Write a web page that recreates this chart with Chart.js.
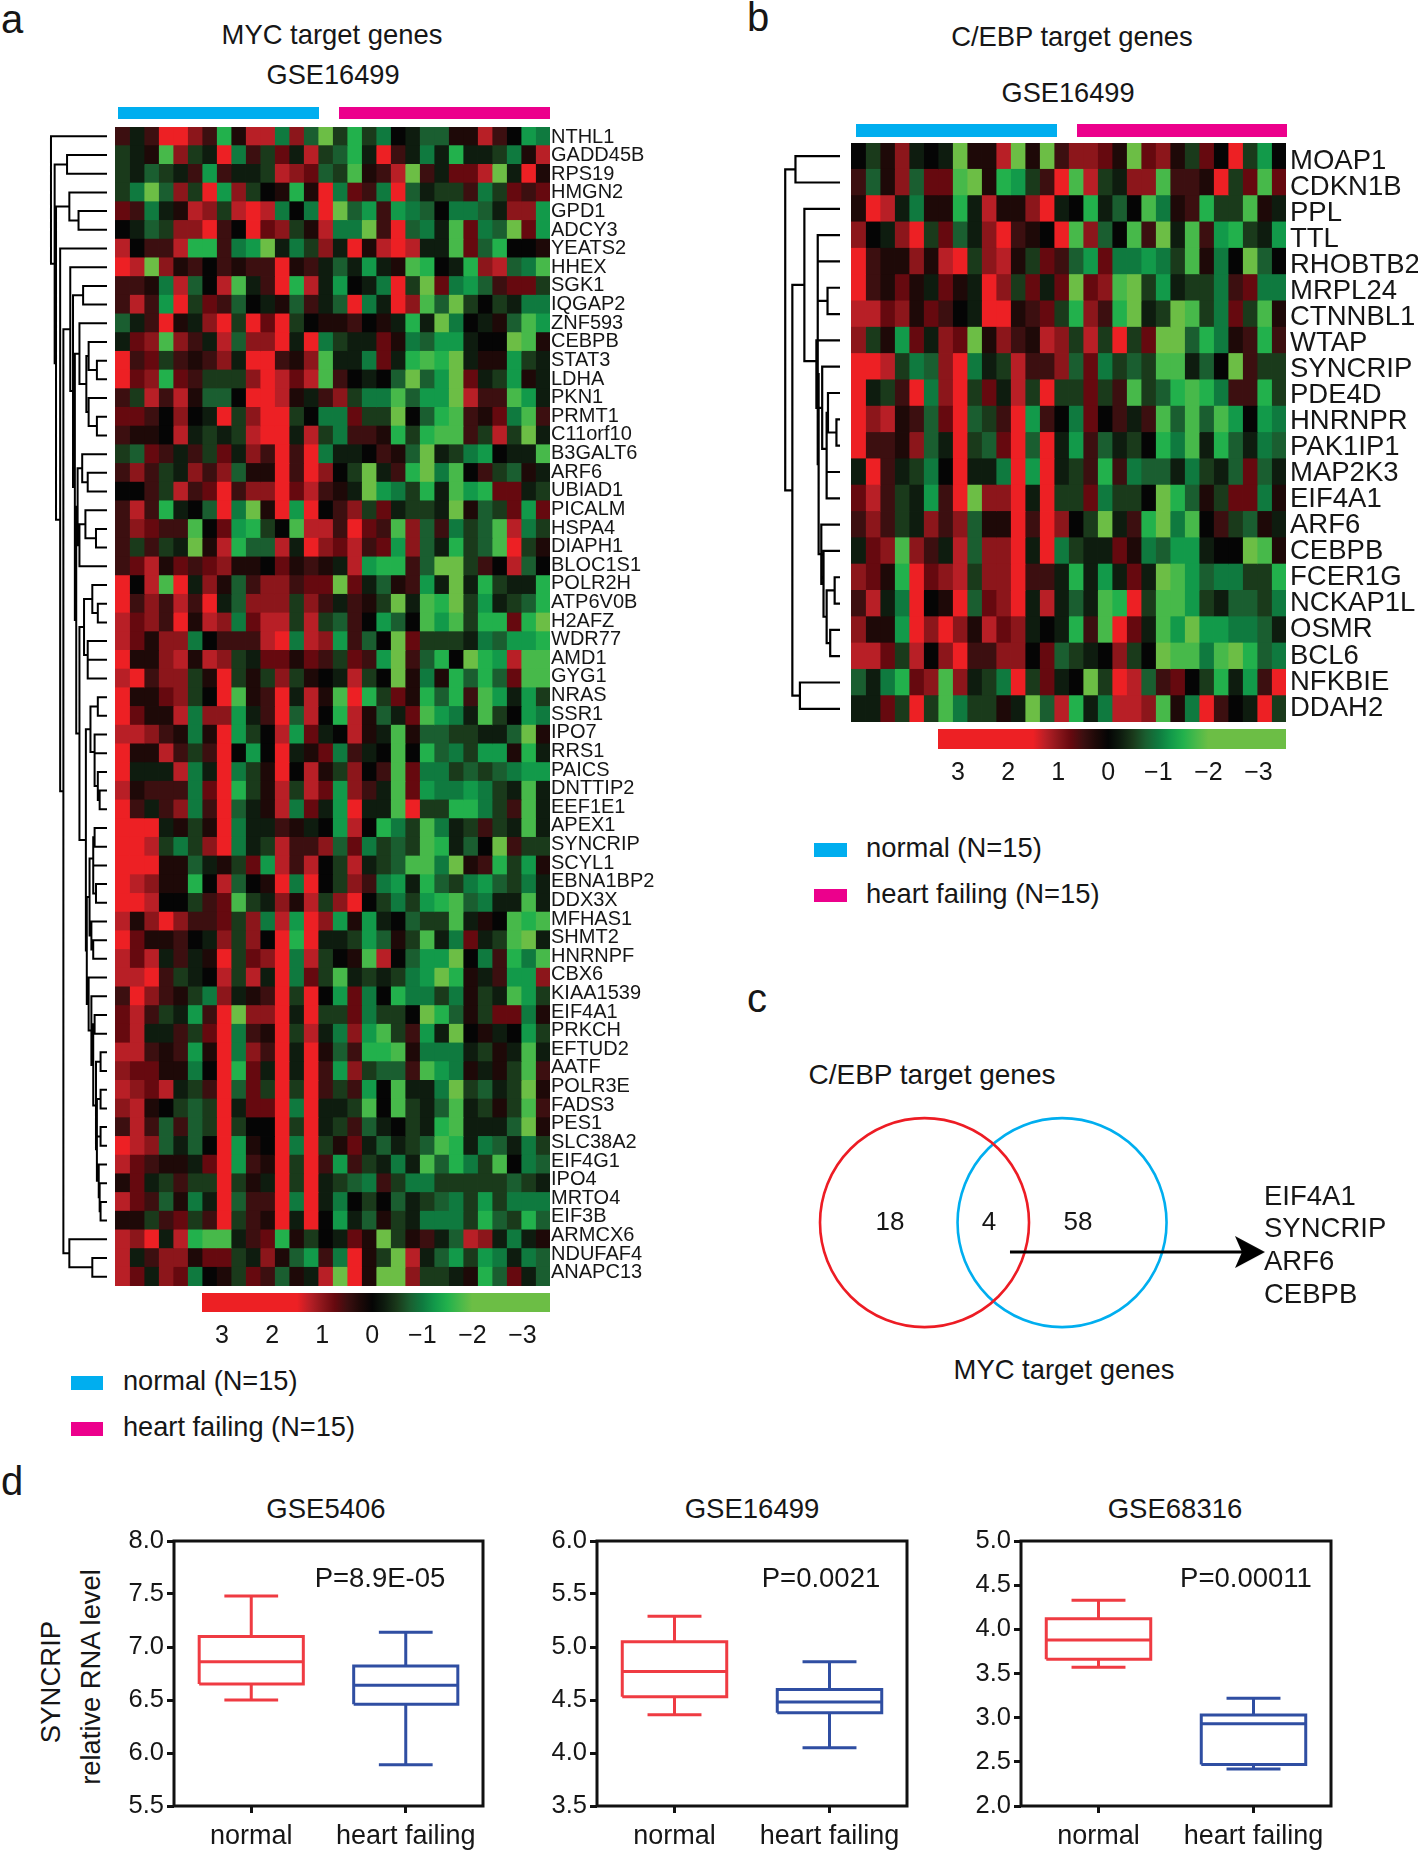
<!DOCTYPE html>
<html>
<head>
<meta charset="utf-8">
<title>MYC and C/EBP target genes</title>
<script src="https://cdn.jsdelivr.net/npm/chart.js@4"></script>
<style>
  html, body { margin: 0; padding: 0; background: #fff; }
  #page { position: relative; width: 1418px; height: 1850px; overflow: hidden; font-family: "Liberation Sans", Arial, sans-serif; color: #161616; }
  #page canvas { position: absolute; }
  .txt { position: absolute; white-space: nowrap; line-height: 1; }
  .swatch { position: absolute; }
</style>
</head>
<body>
<div id="page"></div>
<script>
// Gene names, top to bottom
const mycGenes = ['NTHL1','GADD45B','RPS19','HMGN2','GPD1','ADCY3','YEATS2','HHEX','SGK1','IQGAP2','ZNF593','CEBPB','STAT3','LDHA','PKN1','PRMT1','C11orf10','B3GALT6','ARF6','UBIAD1','PICALM','HSPA4','DIAPH1','BLOC1S1','POLR2H','ATP6V0B','H2AFZ','WDR77','AMD1','GYG1','NRAS','SSR1','IPO7','RRS1','PAICS','DNTTIP2','EEF1E1','APEX1','SYNCRIP','SCYL1','EBNA1BP2','DDX3X','MFHAS1','SHMT2','HNRNPF','CBX6','KIAA1539','EIF4A1','PRKCH','EFTUD2','AATF','POLR3E','FADS3','PES1','SLC38A2','EIF4G1','IPO4','MRTO4','EIF3B','ARMCX6','NDUFAF4','ANAPC13'];
const cebpGenes = ['MOAP1','CDKN1B','PPL','TTL','RHOBTB2','MRPL24','CTNNBL1','WTAP','SYNCRIP','PDE4D','HNRNPR','PAK1IP1','MAP2K3','EIF4A1','ARF6','CEBPB','FCER1G','NCKAP1L','OSMR','BCL6','NFKBIE','DDAH2'];

// Heatmap levels, in quarter z-score steps (6 = saturated red, -8 = lime)
const mycRows = [
[2,-1,2,6,6,4,2,-6,1,5,5,-4,4,-3,-8,-2,-6,-2,-4,0,-1,-3,-3,1,1,5,2,0,-5,-4],
[-2,-1,1,-7,4,-2,-1,6,-4,2,-2,3,-1,5,-2,-3,-6,-1,6,2,-1,-4,-1,-6,-1,-1,-2,-4,1,5],
[-2,-1,-3,-2,-1,2,-5,2,-1,-1,-2,5,4,3,-3,-2,-7,1,2,5,-8,2,-1,3,3,5,-8,-1,6,1],
[-2,-4,-8,-3,4,-2,6,-5,4,-2,0,1,-6,1,6,-4,3,2,-4,6,-3,-1,-2,-2,2,-4,-2,3,2,3],
[3,2,-4,-1,1,5,4,-2,5,6,5,-4,0,-4,6,-8,-3,-5,2,-5,-4,-3,0,-4,-4,-3,-1,4,4,-5],
[0,-1,-3,-2,4,4,6,2,0,6,3,4,-2,1,5,-4,-4,-8,2,6,-3,-4,-1,-7,3,-4,-3,-8,3,-5],
[5,0,2,2,5,-6,-6,2,-4,-5,-8,-1,-4,-2,4,-1,6,1,5,6,5,-1,-1,-7,3,-3,-6,0,0,1],
[6,5,-8,4,1,2,0,2,1,2,2,6,1,2,-1,-3,-1,-5,-1,1,-7,-6,0,-1,-6,4,5,-3,-4,-7],
[2,2,1,-4,5,-3,0,5,-7,-1,2,6,-6,5,-1,-5,0,-1,-4,6,-2,-8,3,-4,-5,-3,2,3,3,-2],
[2,5,2,-5,6,-2,3,2,-3,0,-1,1,-3,2,-1,-3,6,-4,-1,6,4,-7,-3,-8,-2,0,-2,-1,-4,-4],
[-3,-1,2,6,1,-1,4,6,-2,6,3,6,-2,0,1,1,2,0,1,-1,-6,-1,-8,-4,0,-1,1,-3,-7,-5],
[-1,3,4,-7,4,2,-1,5,-3,4,4,6,-1,6,-4,-2,-1,-1,3,1,-4,-3,-5,-5,-1,0,0,-8,-7,1],
[6,2,3,-2,2,1,2,4,-1,6,6,2,1,4,-7,-1,-1,-4,3,-1,-6,-7,-6,-8,-1,1,1,-5,-2,-1],
[6,3,4,-6,3,2,-2,-2,-2,4,6,5,3,5,-7,2,0,-1,0,-3,-8,-3,-5,-8,3,-1,-2,-5,1,-1],
[2,-2,5,2,5,1,-3,-3,0,6,6,5,1,-1,2,4,-2,-4,-4,-7,-3,-5,-5,-8,5,2,2,-7,-5,-1],
[3,3,2,0,4,0,-1,6,-2,4,6,6,-2,0,-4,-4,3,-2,-2,-8,0,-3,-6,-7,2,1,3,-4,-7,2],
[2,1,1,0,5,-1,-2,-1,-2,5,6,6,-1,5,-2,-4,2,2,1,-6,-2,-6,-7,-7,2,-2,5,-2,-8,-1],
[-2,-3,3,2,-1,2,-2,3,-1,4,2,6,2,6,-4,-1,-1,0,2,1,-3,-8,-1,-2,-4,-5,0,-1,-1,-7],
[2,4,2,-2,-1,4,2,4,-3,1,1,6,2,6,4,0,-2,-8,-1,2,-6,-8,-4,-7,0,2,-2,-3,1,-1],
[0,0,2,-2,5,2,3,6,2,4,4,6,3,5,2,1,-1,-8,-5,-4,-2,-6,-1,-7,-5,-6,3,3,-1,-2],
[2,5,2,-6,-1,0,-3,6,-4,-8,1,6,-5,6,0,2,4,-2,3,-1,-2,-2,-1,-8,1,-3,-2,3,-5,3],
[2,4,3,2,2,-7,0,3,-5,-6,-2,0,-7,5,5,2,6,3,2,-7,4,-3,2,-4,-2,-3,-7,5,-4,-2],
[2,-2,2,-2,-1,-8,1,5,-6,-3,-3,5,-1,6,4,3,5,2,3,-5,4,-3,-1,-6,-2,-3,-7,6,-2,1],
[2,3,5,1,3,2,3,4,1,1,0,3,1,2,1,-1,5,-5,-6,-6,2,-3,-8,-8,-2,2,0,5,-3,0],
[6,0,5,-7,6,-1,4,1,-3,2,4,4,2,3,3,-8,3,-1,-3,1,2,-5,-1,-8,-1,-6,-2,-1,-1,-6],
[6,2,4,2,5,2,6,-1,-3,4,4,4,-2,4,2,-1,2,1,-2,-8,-1,-7,-6,-8,-2,-5,-1,-2,-3,-6],
[5,3,4,2,6,1,5,4,-4,3,5,5,-2,5,-2,-3,2,0,-5,-3,0,-7,-5,-7,-2,-6,-6,3,-6,-8],
[5,3,1,4,4,-4,0,2,2,2,5,6,-4,5,4,-5,2,-3,0,-8,3,-2,-2,-2,-1,-4,-3,-5,-5,-6],
[6,1,1,4,5,1,5,4,-2,-1,3,3,1,3,2,-2,3,2,-5,-8,2,-3,-6,0,-8,-6,-5,5,-7,-7],
[5,6,2,4,4,-2,1,6,-2,1,-2,4,-2,1,0,-1,5,-2,0,-8,1,-4,1,-6,-3,-6,-3,3,-7,-7],
[6,1,1,3,4,-2,0,6,-7,1,2,6,-1,5,1,-7,6,-6,-2,3,1,-6,-3,-6,2,-7,-5,-1,-5,-2],
[6,3,1,1,5,-4,4,4,-5,-1,2,6,-3,5,0,-6,5,1,-3,-1,3,-7,-5,-4,-1,-7,-2,0,-5,-4],
[5,5,4,2,1,-4,1,6,-5,-2,0,5,-5,3,-1,0,5,1,-1,-7,1,-3,-3,-2,-2,-1,-1,-3,-8,1],
[6,1,1,5,2,-2,2,6,0,-5,0,6,-1,1,3,-4,2,-1,0,-7,0,-6,-3,-4,-2,-5,-5,1,-6,-1],
[6,-1,-1,-1,5,-4,-1,6,-4,-2,1,6,0,5,1,-2,4,0,2,-7,3,-4,-4,-2,-3,-2,-3,-4,-5,-5],
[5,1,2,2,2,-4,3,6,-6,-2,1,5,-2,5,3,-5,4,2,-1,-7,3,-5,-4,-4,-5,-4,-2,-1,-7,-1],
[6,2,-1,2,4,-4,2,6,-3,-1,1,5,-4,3,-1,-5,6,-1,-1,-7,6,-2,-2,-6,-6,-4,-2,2,-7,-1],
[6,6,6,-1,1,-2,1,6,-4,-1,-1,2,1,-1,0,-5,5,0,-6,-4,-2,-7,-4,-1,-2,2,-2,-1,-7,-1],
[6,6,5,-2,-4,-2,4,6,-4,-1,-2,5,2,2,4,-3,3,-4,-2,-3,-2,-7,-6,-1,-3,0,-8,2,-2,-2],
[6,6,6,1,1,-3,-1,1,-2,3,-5,5,2,5,0,-2,5,-1,-2,-3,-7,-7,-4,-8,1,2,-6,-2,-5,1],
[6,5,4,1,1,-6,0,5,-3,0,1,6,-4,6,0,-2,4,2,-4,-5,-1,-6,-3,-2,-4,-5,-3,-2,-4,-1],
[6,6,5,0,0,-2,2,3,-7,-2,-1,4,1,5,-2,4,6,0,-2,-4,-2,-5,-6,-7,-3,-4,-1,-1,-7,-1],
[5,1,4,6,4,2,2,3,-2,4,-4,5,-5,6,4,-5,1,-5,-1,0,-3,-2,-2,-7,-1,1,0,-7,-6,-7],
[6,3,1,1,2,0,-1,4,-2,4,0,6,-6,6,-1,-1,-2,-5,-3,1,-2,-7,-1,-4,3,-1,-2,-7,-8,-1],
[5,3,5,-1,2,-1,1,6,-2,3,4,6,-4,5,-2,0,1,-7,5,0,-3,-5,-5,-8,0,-4,2,-6,-4,-7],
[5,5,6,2,-2,-1,0,5,-2,5,-1,6,-4,3,-2,-7,-1,-2,-1,-2,-4,-5,-8,-6,1,-1,2,-5,-5,4],
[2,6,4,2,1,-2,-4,4,-1,1,2,6,-2,6,0,-5,3,-4,0,-6,-4,-4,-2,-4,1,-2,-1,-7,-5,-2],
[3,5,2,-2,-1,-5,2,6,-8,4,4,6,-1,6,-2,-2,3,-4,-2,-2,0,-8,-6,-3,1,-2,3,3,-4,1],
[3,5,-1,-1,2,-2,3,6,-4,2,1,6,-2,5,-1,-4,4,-5,-7,-2,2,-5,-1,-8,0,1,-1,0,-5,-2],
[5,5,2,1,2,-5,1,6,-4,4,2,6,-1,6,1,-3,2,-6,-6,-7,1,-4,-4,-4,-1,-2,1,-1,-7,-1],
[4,3,3,1,1,-4,0,6,-6,3,-1,6,-1,6,2,-5,4,-2,-3,-3,2,-7,-5,-4,1,-1,1,-2,-7,2],
[5,4,3,5,-1,-2,2,6,-3,3,-2,6,-2,6,2,-2,2,-5,0,-7,-1,-1,-4,-8,-2,-3,-1,-2,-8,1],
[4,5,1,0,-2,-3,-2,6,-1,3,3,6,-4,6,-1,-1,-2,-7,0,-7,-2,-1,-3,-7,-1,-2,1,-2,-7,2],
[2,5,2,-3,2,-3,-2,6,-2,0,0,6,-2,6,-1,-2,2,-3,-1,0,-2,-1,-6,-7,-1,-1,-1,-3,-8,1],
[6,5,4,-3,-1,-3,0,6,-5,1,0,6,-4,6,-2,1,3,-1,-3,-1,-2,-3,-7,-6,-1,-4,-3,-1,-4,-2],
[5,3,2,1,1,-1,3,6,-5,2,1,6,-2,6,2,-5,2,-2,-1,-4,-1,-7,-3,-6,-4,-2,-7,0,-4,-3],
[1,3,-1,-2,2,-2,-2,6,-2,1,-1,6,-2,6,-1,-2,-3,-4,2,-2,-4,-4,-2,-2,-2,-2,-2,-3,-2,-1],
[5,3,2,-3,1,-4,-1,6,-3,2,2,6,-4,6,-1,-4,0,-2,0,-3,-1,-2,-3,-4,-2,-5,-2,-4,-4,-4],
[1,1,-2,2,3,-2,2,6,-2,2,1,6,-1,6,0,-5,-1,-3,1,-2,-1,-4,-4,-4,-2,-6,-3,-2,-6,-3],
[5,4,6,-1,5,-6,-7,-7,-1,2,3,-6,1,-2,0,-1,3,1,-8,-2,1,2,-1,-3,5,4,-1,-4,-1,1],
[5,-1,2,4,4,1,3,3,-2,-1,4,1,-3,-5,2,-4,6,1,-2,-8,5,-1,-3,-5,-2,-5,-4,-1,-4,-3],
[5,3,-1,4,3,-4,0,1,-2,3,2,-3,1,-1,5,-8,6,1,-8,-8,4,-2,-2,-1,1,-6,-3,3,-1,-3]
];
const cebpRows = [
[0,-2,1,4,-1,0,-1,-8,1,1,5,-8,1,-8,2,4,4,3,1,-8,3,4,1,-2,3,0,6,-2,-5,0],
[2,-3,1,4,-3,3,3,-7,-8,1,-6,-5,-2,2,6,-7,5,-2,-1,4,4,-7,2,2,1,6,-2,3,-7,3],
[1,6,5,-1,-4,1,1,-6,-1,5,1,1,4,6,-1,0,-6,-1,-3,0,-7,-4,1,2,-6,-2,-2,-7,1,-1],
[4,0,-1,4,6,-2,3,-3,-1,4,6,2,1,0,6,-7,4,-3,0,-7,2,-8,-1,-7,2,-5,-6,-2,-1,-5],
[6,2,1,1,4,1,5,6,-2,4,5,1,-2,3,2,-3,-5,3,-4,-4,-5,-4,-2,-7,1,-4,0,-8,-3,0],
[6,2,1,3,1,-1,3,1,-1,6,4,-2,3,-1,3,-8,3,4,-7,-8,-2,-5,-1,-2,-2,-4,2,3,-4,-4],
[5,5,3,4,1,3,2,0,-1,6,6,1,2,3,-2,-6,4,2,-6,-8,-1,-2,-8,-7,-2,-4,3,-2,-7,1],
[4,-2,1,-5,3,-1,4,3,-8,1,4,2,1,5,4,-2,5,-2,6,-2,3,-8,-8,-3,-6,-4,1,2,-6,2],
[6,6,5,-2,-4,-3,4,6,-4,-1,-2,5,2,2,4,-3,3,-4,-2,-3,-2,-7,-7,-1,-3,0,-8,2,-2,-2],
[6,-1,-2,2,6,-4,4,6,-2,3,-1,5,-2,6,-2,-2,3,-2,2,-7,-2,-3,-6,-7,-6,-4,2,2,-6,-2],
[6,4,5,1,2,-3,3,6,-3,-2,2,6,-5,2,0,-4,3,0,2,-1,2,-7,-3,-7,-3,-7,-5,0,-5,-4],
[6,2,2,1,4,-3,-1,6,-2,-3,3,6,-3,6,-1,-5,2,-3,-1,-2,0,-6,-4,-7,-1,-6,-3,-1,-4,-3],
[-1,6,2,-1,-2,-4,0,6,-1,-1,-4,6,-5,6,-1,-2,2,-6,2,-4,-3,-3,-1,-4,-2,-1,-3,3,-3,-1],
[3,5,2,-2,-1,-5,2,6,-8,4,4,6,-1,6,-2,-2,3,-4,-2,-2,0,-8,-6,-3,1,-2,3,3,-4,1],
[2,4,2,-2,-1,4,2,4,-3,1,1,6,2,6,4,0,-2,-8,-1,2,-6,-8,-4,-7,0,2,-2,-3,1,-1],
[-1,3,4,-7,4,2,-1,5,-3,4,4,6,-1,6,-4,-2,-1,-1,3,1,-4,-3,-5,-5,-1,0,0,-8,-7,1],
[4,3,1,-6,6,3,4,5,-2,4,4,6,2,2,-1,-6,-1,-5,-1,3,-1,-8,-7,-5,-3,-4,-4,-2,-2,-6],
[2,5,-1,-4,6,0,1,6,-3,3,4,6,-1,5,-1,-3,-1,-7,-6,6,-2,-7,-7,-5,-2,-1,-3,-3,-2,-4],
[4,1,1,-5,6,4,6,4,1,5,3,4,-1,0,-1,-6,2,-7,6,3,-1,-7,-5,-8,-5,-5,-4,-4,-3,-1],
[5,5,3,-2,5,0,4,6,2,2,4,4,0,3,-3,-2,-1,0,4,-2,0,-8,-7,-7,-4,-7,-8,-6,-3,-4],
[-3,-1,-4,-6,3,4,-7,4,-1,-2,-4,6,-2,3,-1,0,-8,-2,6,5,-3,2,3,0,-2,-6,-1,-5,2,6],
[-1,-1,3,-2,6,-2,-7,-4,-2,-2,1,-1,-8,-3,5,-6,-1,-4,5,5,4,-7,1,-4,6,2,0,-1,6,-2]
];
const sampleCount = 30;

// Colours of the levels, from -8 up to 6
const levelColors = ['#6cbe45','#47b94a','#22b14c','#129a4a','#0f7a3f','#1a5e30','#1a3a1b','#0e1c0f','#050505','#1e0908','#3c0f10','#66090f','#8c161b','#b81f26','#ed2024'];
const colorOf = level => levelColors[level + 8];

// Colour bar
const colorTicks = [3, 2, 1, 0, -1, -2, -3];
const colorMin = -3.55, colorMax = 3.4;

// Dendrograms: [height, child, child], a plain number is a row
const mycTree = [122, 0, [114, [87, 1, 2], [111, [82, 3, [62, 4, 5]], [102, 6, [95,
  [80, 7, [74, [52, 8, 9], [70,
    [60, 10, [45, [40, 11, [22, 12, 13]], [40, 14, [22, 15, 16]]]],
    [67,
      [64, [54, 17, [42, 18, 19]], [60, [47, 20, [24, 21, 22]], 23]],
      [60, [50, [32, 24, [20, 25, 26]], [42, 27, [42, 28, 29]]],
        [46, [36, [20, 30, 31], [27, 32, [27, 33, [20, 34, [16, 35, 36]]]]],
          [44, [38, [30, [27, 37, 38], [30, 39, [24, 40, 41]]], [34, 42, [30, 43, 44]]],
            [40, 45, [34, 46, [30, [27, 47, 48], [24, [14, 49, 50],
              [22, [22, [14, 51, 52], [14, 53, 54]], [18, 55, [16, 56, [14, 57, 58]]]]
            ]]]]
          ]
        ]
      ]
    ]
  ]]],
  [82, 59, [32, 60, 61]]
]]]]];
const cebpTree = [123, [100, 0, 1], [107, [80, [50, [50, 3, [50, 4, [28, 5, 6]]], [48, [53, 7, [40, 8, [30, [27, 9, [8, 10, 11]], [30, 12, 13]]]], [42, 14, [37, 15, [30, [12, 16, 17], [22, 18, 19]]]]]], 2], [90, 20, 21]]];

// Box plots: low whisker, q1, median, q3, high whisker
const boxLabels = ['normal', 'heart failing'];
const gse5406Normal = [6.5, 6.65, 6.86, 7.1, 7.48];
const gse5406Failing = [5.89, 6.46, 6.64, 6.82, 7.14];
const gse16499Normal = [4.36, 4.53, 4.77, 5.05, 5.29];
const gse16499Failing = [4.05, 4.38, 4.48, 4.6, 4.86];
const gse68316Normal = [3.57, 3.66, 3.88, 4.12, 4.33];
const gse68316Failing = [2.42, 2.47, 2.93, 3.03, 3.22];

// Venn diagram
const vennCounts = ['18', '4', '58'];
const sharedGenes = ['EIF4A1', 'SYNCRIP', 'ARF6', 'CEBPB'];

const page = document.getElementById('page');
const BLUE = '#00aeef', PINK = '#ec008c';

function text(str, x, y, size, align, rotate) {
  const d = document.createElement('div');
  d.className = 'txt';
  d.textContent = str;
  d.style.left = x + 'px';
  d.style.top = y + 'px';
  d.style.fontSize = size + 'px';
  const tx = align === 'left' ? '0' : '-50%';
  d.style.transform = 'translate(' + tx + ',-50%)' + (rotate ? ' rotate(' + rotate + 'deg)' : '');
  page.appendChild(d);
}
function rect(x, y, w, h, color) {
  const d = document.createElement('div');
  d.className = 'swatch';
  d.style.cssText = 'left:' + x + 'px;top:' + y + 'px;width:' + w + 'px;height:' + h + 'px;background:' + color;
  page.appendChild(d);
}
function canvas(x, y, w, h) {
  const c = document.createElement('canvas');
  c.width = w; c.height = h;
  c.style.left = x + 'px'; c.style.top = y + 'px';
  c.style.width = w + 'px'; c.style.height = h + 'px';
  page.appendChild(c);
  return c;
}
const baseOptions = {
  responsive: false, animation: false, devicePixelRatio: 1,
  layout: { padding: 0, autoPadding: false },
  plugins: { legend: { display: false }, tooltip: { enabled: false } }
};

// Heatmap: one stacked bar series per sample, one category per gene.
// The names sit on their own linear axis because they do not quite follow the rows in the figure.
function heatmap(x, y, w, h, labelW, labelGap, genes, rows, fontSize, labelMin, labelMax) {
  const datasets = [];
  for (let col = 0; col < sampleCount; col++) {
    datasets.push({
      data: rows.map(() => 1),
      backgroundColor: rows.map(r => colorOf(r[col])),
      borderWidth: 0, barPercentage: 1, categoryPercentage: 1, inflateAmount: 0.4
    });
  }
  new Chart(canvas(x, y, w + labelW, h), {
    type: 'bar',
    data: { labels: genes, datasets },
    options: {
      ...baseOptions,
      indexAxis: 'y',
      scales: {
        x: { stacked: true, min: 0, max: sampleCount, display: false },
        y: { stacked: true, display: false },
        names: {
          type: 'linear', axis: 'y', position: 'right', reverse: true, offset: false, min: labelMin, max: labelMax,
          grid: { display: false, drawTicks: false, offset: false }, border: { display: false },
          afterBuildTicks: s => { s.ticks = genes.map((g, i) => ({ value: i })); },
          afterFit: s => { s.width = labelW; s.paddingTop = 0; s.paddingBottom = 0; },
          ticks: { autoSkip: false, padding: labelGap, color: '#161616', font: { family: 'Liberation Sans', size: fontSize }, callback: v => genes[v] }
        }
      }
    }
  });
}

// Dendrogram drawn as one broken line on distance / row axes
function treePoints(node, pts) {
  if (typeof node === 'number') return { h: 0, y: node };
  const a = treePoints(node[1], pts);
  const b = treePoints(node[2], pts);
  pts.push({ x: a.h, y: a.y }, { x: node[0], y: a.y }, { x: node[0], y: b.y }, { x: b.h, y: b.y }, { x: NaN, y: NaN });
  return { h: node[0], y: (a.y + b.y) / 2 };
}
function dendrogram(x, y, w, h, maxDist, rowCount, tree, lineW) {
  const pts = [];
  treePoints(tree, pts);
  new Chart(canvas(x, y, w, h), {
    type: 'scatter',
    data: { datasets: [{ data: pts, showLine: true, spanGaps: false, borderColor: '#000', borderWidth: lineW, pointRadius: 0, clip: false, borderCapStyle: 'square' }] },
    options: {
      ...baseOptions,
      scales: {
        x: { type: 'linear', reverse: true, min: 0, max: maxDist, display: false },
        y: { type: 'linear', reverse: true, min: -0.5, max: rowCount - 0.5, display: false }
      }
    }
  });
}

// Colour bar: a single floating bar with the level colours as gradient
function colorBar(x, y, w, barH) {
  new Chart(canvas(x, y, w, barH + 44), {
    type: 'bar',
    data: {
      labels: [''],
      datasets: [{
        data: [[colorMin, colorMax]],
        barPercentage: 1, categoryPercentage: 1, borderWidth: 0,
        backgroundColor: ctx => {
          const chart = ctx.chart;
          if (!chart.chartArea) return '#000';
          const s = chart.scales.x;
          const g = chart.ctx.createLinearGradient(s.getPixelForValue(colorMax), 0, s.getPixelForValue(colorMin), 0);
          levelColors.slice().reverse().forEach((c, i) => {
            const z = (6 - i) / 4;
            g.addColorStop((colorMax - z) / (colorMax - colorMin), c);
          });
          return g;
        }
      }]
    },
    options: {
      ...baseOptions,
      indexAxis: 'y',
      scales: {
        x: {
          type: 'linear', reverse: true, min: colorMin, max: colorMax,
          grid: { display: false, drawTicks: false }, border: { display: false },
          afterBuildTicks: s => { s.ticks = colorTicks.map(v => ({ value: v })); },
          afterFit: s => { s.height = 44; s.paddingLeft = 0; s.paddingRight = 0; },
          ticks: {
            padding: 9, color: '#161616', maxRotation: 0, autoSkip: false,
            font: { family: 'Liberation Sans', size: 25 },
            callback: v => (v < 0 ? '\u2212' + (-v) : String(v))
          }
        },
        y: { display: false }
      }
    }
  });
}

// Box plot from lines on linear scales
const BOX_HALF = 0.337, CAP_HALF = 0.174;
function boxPoints(c, s) {
  const [lo, q1, med, q3, hi] = s;
  const gap = { x: NaN, y: NaN };
  return [
    { x: c - BOX_HALF, y: q1 }, { x: c + BOX_HALF, y: q1 }, { x: c + BOX_HALF, y: q3 }, { x: c - BOX_HALF, y: q3 }, { x: c - BOX_HALF, y: q1 }, gap,
    { x: c - BOX_HALF, y: med }, { x: c + BOX_HALF, y: med }, gap,
    { x: c, y: q1 }, { x: c, y: lo }, gap, { x: c - CAP_HALF, y: lo }, { x: c + CAP_HALF, y: lo }, gap,
    { x: c, y: q3 }, { x: c, y: hi }, gap, { x: c - CAP_HALF, y: hi }, { x: c + CAP_HALF, y: hi }
  ];
}
const frame = {
  id: 'frame',
  afterDraw(chart) {
    const a = chart.chartArea, c = chart.ctx;
    c.save();
    c.strokeStyle = '#111';
    c.lineWidth = 3;
    c.strokeRect(a.left, a.top, a.right - a.left, a.bottom - a.top);
    c.restore();
  }
};
function boxPlot(plotX, plotY, plotW, plotH, yMin, yMax, normal, failing) {
  const leftW = 70, topPad = 14, rightPad = 6, bottomH = 44;
  const line = { showLine: true, spanGaps: false, borderWidth: 3, pointRadius: 0, borderCapStyle: 'butt' };
  new Chart(canvas(plotX - leftW, plotY - topPad, plotW + leftW + rightPad, plotH + topPad + bottomH), {
    type: 'scatter',
    data: {
      datasets: [
        { ...line, data: boxPoints(1, normal), borderColor: '#ef3b42' },
        { ...line, data: boxPoints(2, failing), borderColor: '#2f4ea2' }
      ]
    },
    options: {
      ...baseOptions,
      layout: { padding: { top: topPad, right: rightPad }, autoPadding: false },
      scales: {
        x: {
          type: 'linear', min: 0.5, max: 2.5,
          grid: { drawOnChartArea: false, tickLength: 7, tickWidth: 3, tickColor: '#111' }, border: { display: false },
          afterBuildTicks: s => { s.ticks = [{ value: 1 }, { value: 2 }]; },
          afterFit: s => { s.height = bottomH; s.paddingLeft = 0; s.paddingRight = 0; },
          ticks: { padding: 7, color: '#161616', maxRotation: 0, font: { family: 'Liberation Sans', size: 27 }, callback: v => boxLabels[v - 1] }
        },
        y: {
          type: 'linear', min: yMin, max: yMax,
          grid: { drawOnChartArea: false, tickLength: 7, tickWidth: 3, tickColor: '#111' }, border: { display: false },
          afterFit: s => { s.width = leftW; s.paddingTop = 0; s.paddingBottom = 0; },
          ticks: { stepSize: 0.5, padding: 3, color: '#161616', font: { family: 'Liberation Sans', size: 25.5 }, callback: v => v.toFixed(1) }
        }
      }
    },
    plugins: [frame]
  });
}

// Venn diagram: circles and arrow on a scale with one circle radius as unit
function venn() {
  const head = document.createElement('canvas');
  head.width = 30; head.height = 32;
  const h = head.getContext('2d');
  h.beginPath(); h.moveTo(30, 16); h.lineTo(0, 0); h.lineTo(7, 16); h.lineTo(0, 32); h.closePath();
  h.fillStyle = '#000'; h.fill();
  const circle = { pointRadius: 104.5, pointBorderWidth: 2.6, pointBackgroundColor: 'rgba(0,0,0,0)', clip: false };
  new Chart(canvas(800, 1100, 480, 240), {
    type: 'scatter',
    data: {
      datasets: [
        { data: [{ x: 0.814, y: -0.28 }, { x: 3.1, y: -0.28 }], showLine: true, borderColor: '#000', borderWidth: 3, pointRadius: 0 },
        { data: [{ x: 3.1, y: -0.28 }], pointStyle: head, pointRadius: 16 },
        { ...circle, data: [{ x: 0, y: 0 }], pointBorderColor: '#ed1c24' },
        { ...circle, data: [{ x: 1.31, y: 0 }], pointBorderColor: BLUE }
      ]
    },
    options: {
      ...baseOptions,
      scales: {
        x: { type: 'linear', min: -1.186, max: 3.386, display: false },
        y: { type: 'linear', min: -1.118, max: 1.168, display: false }
      }
    }
  });
}

// Panel a
text('a', 1, 19, 40, 'left');
text('MYC target genes', 332, 35, 27.4);
text('GSE16499', 333, 75, 27.2);
rect(118, 107, 201, 12, BLUE);
rect(339, 107, 211, 12, PINK);
dendrogram(0, 127, 107, 1159, 233, mycGenes.length, mycTree, 2);
heatmap(115, 127, 435, 1159, 130, 1, mycGenes, mycRows, 20, -0.537, 61.71);
colorBar(202, 1293, 348, 19);
rect(71, 1376, 32, 14, BLUE);
rect(71, 1422, 32, 14, PINK);
text('normal (N=15)', 123, 1381, 27.2, 'left');
text('heart failing (N=15)', 123, 1427, 27.2, 'left');

// Panel b
text('b', 747, 17, 40, 'left');
text('C/EBP target genes', 1072, 37, 27.4);
text('GSE16499', 1068, 93, 27.2);
rect(856, 124, 201, 13, BLUE);
rect(1077, 124, 210, 13, PINK);
dendrogram(620, 143, 220, 579, 494, cebpGenes.length, cebpTree, 2.2);
heatmap(851, 143, 435, 579, 132, 4, cebpGenes, cebpRows, 27.5, -0.719, 21.54);
colorBar(938, 729, 348, 20);
rect(814, 843, 33, 14, BLUE);
rect(814, 889, 33, 13, PINK);
text('normal (N=15)', 866, 848, 27.4, 'left');
text('heart failing (N=15)', 866, 894, 27.4, 'left');

// Panel c
text('c', 747, 998, 40, 'left');
text('C/EBP target genes', 932, 1075, 28);
venn();
text(vennCounts[0], 890, 1221, 26);
text(vennCounts[1], 989, 1221, 26);
text(vennCounts[2], 1078, 1221, 26);
sharedGenes.forEach((g, i) => text(g, 1264, [1196, 1228, 1261, 1294][i], 27.5, 'left'));
text('MYC target genes', 1064, 1370, 27.4);

// Panel d
text('d', 1, 1481, 40, 'left');
text('SYNCRIP', 51, 1682, 27.5, 'center', -90);
text('relative RNA level', 91, 1677, 27.3, 'center', -90);
text('GSE5406', 326, 1509, 27.5);
text('GSE16499', 752, 1509, 27.5);
text('GSE68316', 1175, 1509, 27.5);
boxPlot(174, 1541, 309, 265, 5.5, 8, gse5406Normal, gse5406Failing);
boxPlot(597, 1541, 310, 265, 3.5, 6, gse16499Normal, gse16499Failing);
boxPlot(1021, 1541, 310, 265, 2, 5, gse68316Normal, gse68316Failing);
text('P=8.9E-05', 380, 1578, 27.5);
text('P=0.0021', 821, 1578, 27.5);
text('P=0.00011', 1246, 1578, 27.5);
</script>
</body>
</html>
